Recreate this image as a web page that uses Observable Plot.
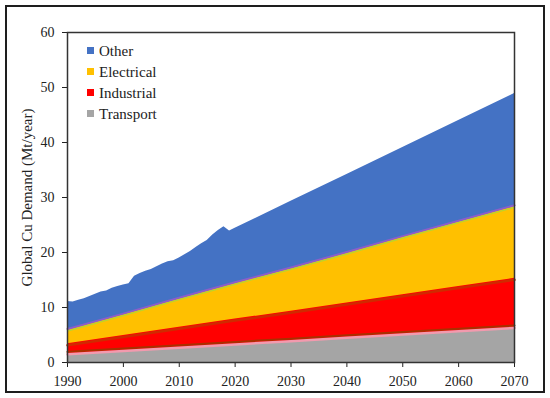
<!DOCTYPE html>
<html>
<head>
<meta charset="utf-8">
<script src="https://cdn.jsdelivr.net/npm/d3@7"></script>
<script src="https://cdn.jsdelivr.net/npm/@observablehq/plot@0.6"></script>
<style>
  html, body { margin: 0; padding: 0; background: #fff; }
  #wrap { position: relative; width: 550px; height: 398px; overflow: hidden; }
  #border { position: absolute; left: 5px; top: 5px; width: 540px; height: 388px; box-sizing: border-box; border: 2px solid #1e1e1e; pointer-events: none; }
</style>
</head>
<body>
<div id="wrap">
  <div id="chart"></div>
  <div id="border"></div>
</div>
<script>
// Total demand (top of the stack, including "Other")
const years = [1990,1991,1992,1993,1994,1995,1996,1997,1998,1999,2000,2001,2002,2003,2004,2005,2006,2007,2008,2009,2010,2011,2012,2013,2014,2015,2016,2017,2018,2019,2020,2030,2040,2050,2060,2070];
const totalDemand = [11.1,11.0,11.3,11.6,12.0,12.4,12.8,13.0,13.5,13.8,14.1,14.3,15.7,16.2,16.6,16.9,17.4,17.9,18.3,18.5,19.0,19.6,20.2,20.9,21.6,22.2,23.2,24.0,24.7,23.9,24.4,29.3,34.2,39.1,44.0,48.9];

// Lower series (Mt/year)
const decades = [1990,2000,2010,2020,2030,2040,2050,2060,2070];
const transport  = [1.3,1.9,2.5,3.1,3.7,4.3,4.9,5.5,6.1];
const industrial = [2.1,3.0,3.9,4.8,5.6,6.5,7.4,8.3,9.2];
const electrical = [2.5,3.8,5.2,6.5,7.8,9.1,10.5,11.8,13.1];

const seriesNames = ["Other","Electrical","Industrial","Transport"];
const seriesColors = ["#4472C4","#FFC000","#FF0000","#A5A5A5"];
const xTicks = [1990,2000,2010,2020,2030,2040,2050,2060,2070];
const yTicks = [0,10,20,30,40,50,60];

const FONT = '"Liberation Serif", "DejaVu Serif", serif';

const totalRows = years.map((y,i) => ({year: y, top: totalDemand[i]}));
const lowRows = decades.map((y,i) => ({
  year: y,
  t: transport[i],
  ti: transport[i] + industrial[i],
  tie: transport[i] + industrial[i] + electrical[i]
}));

const chart = Plot.plot({
  width: 550,
  height: 398,
  marginLeft: 67,
  marginRight: 36,
  marginTop: 32,
  marginBottom: 36,
  style: {fontFamily: FONT, fontSize: "14px", color: "#222", background: "transparent"},
  x: {domain: [1990, 2070], ticks: xTicks, tickFormat: "d", tickSize: 5, tickPadding: 9, label: null},
  y: {domain: [0, 60], ticks: yTicks, tickSize: 5, tickPadding: 8, label: null},
  marks: [
    Plot.areaY(totalRows, {x: "year", y1: 0, y2: "top", fill: seriesColors[0]}),
    Plot.areaY(lowRows, {x: "year", y1: 0, y2: "tie", fill: seriesColors[1]}),
    Plot.areaY(lowRows, {x: "year", y1: 0, y2: "ti", fill: seriesColors[2]}),
    Plot.areaY(lowRows, {x: "year", y1: 0, y2: "t", fill: seriesColors[3]}),
    Plot.line(lowRows, {x: "year", y: "tie", stroke: "#8b5fc9", strokeWidth: 2, dy: -1}),
    Plot.line(lowRows, {x: "year", y: "tie", stroke: "#b8d430", strokeWidth: 1.2, dy: 1}),
    Plot.line(lowRows, {x: "year", y: "ti", stroke: "#d02a00", strokeWidth: 2.5, dy: 1.5}),
    Plot.line(lowRows, {x: "year", y: "t", stroke: "#a83000", strokeWidth: 2, dy: -3.5}),
    Plot.line(lowRows, {x: "year", y: "t", stroke: "#f29aae", strokeWidth: 2.5, dy: -1}),
    Plot.frame({stroke: "#333", strokeWidth: 1.5}),
    Plot.text(["Global Cu Demand (Mt/year)"], {frameAnchor: "left", textAnchor: "middle", dx: -40, rotate: -90, fontSize: 15, fill: "#222"})
  ]
});
document.getElementById("chart").appendChild(chart);

// Legend drawn inside the chart's SVG, top-left of the plot frame
const svg = d3.select(chart);
const lg = svg.append("g").attr("transform", "translate(87,50.5)")
  .attr("text-anchor", "start").attr("font-family", FONT).attr("font-size", 15);
const rows = lg.selectAll("g").data(seriesNames).join("g")
  .attr("transform", (d, i) => `translate(0,${i * 21})`);
rows.append("rect").attr("x", 0).attr("y", -3.5).attr("width", 7).attr("height", 7)
  .attr("stroke", "none").attr("fill", (d, i) => seriesColors[i]);
rows.append("text").attr("x", 12).attr("y", 0).attr("dy", "0.35em")
  .attr("text-anchor", "start").attr("fill", "#222").attr("stroke", "none")
  .text(d => d);
</script>
</body>
</html>
